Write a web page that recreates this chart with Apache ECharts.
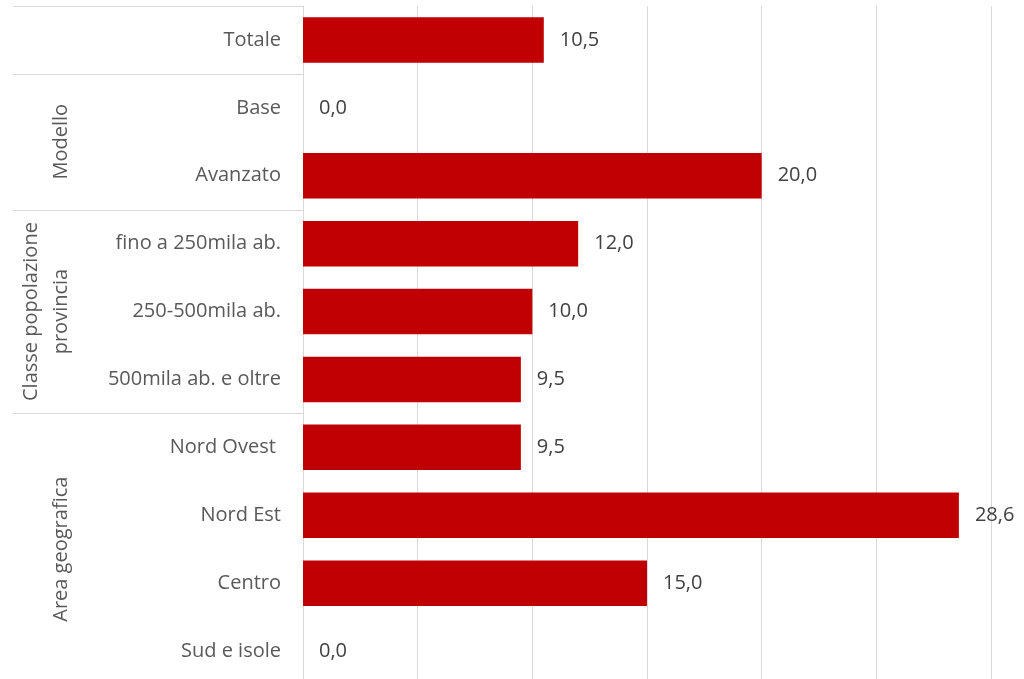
<!DOCTYPE html>
<html>
<head>
    <meta charset="utf-8">
    <title>ECharts</title>
    <script src="https://cdn.jsdelivr.net/npm/echarts@6/dist/echarts.min.js"></script>
</head>
<body style="margin:0">
<div id="main" style="width: 1024px;height:679px;"></div>

<script type="text/javascript">
    var categories = ['Totale', 'Base', 'Avanzato', 'fino a 250mila ab.', '250-500mila ab.',
        '500mila ab. e oltre', 'Nord Ovest ', 'Nord Est', 'Centro', 'Sud e isole'];
    var values = [10.5, 0, 20, 12, 10, 9.5, 9.5, 28.6, 15, 0];
    // outer group labels on the left, with how many categories each one covers
    var groupNames = ['', 'Modello', 'Classe popolazione\nprovincia', 'Area geografica'];
    var groupSizes = [1, 2, 3, 4];

    var fontFamily = '"Open Sans", sans-serif';
    var lineColor = '#d9d9d9';

    var myChart = echarts.init(document.getElementById('main'));

    var option = {
        animation: false,
        grid: {
            left: 303,
            right: 33,
            top: 6,
            bottom: -6,
            outerBoundsMode: 'none'
        },
        xAxis: {
            type: 'value',
            min: 0,
            max: 30,
            interval: 5,
            axisLabel: { show: false },
            axisLine: { show: false },
            axisTick: { show: false },
            splitLine: { lineStyle: { color: lineColor, width: 1 } }
        },
        yAxis: {
            type: 'category',
            inverse: true,
            data: categories,
            axisLine: { show: true, lineStyle: { color: lineColor, width: 1 } },
            axisTick: { show: false },
            axisLabel: {
                margin: 22,
                fontSize: 20,
                color: '#595959',
                fontFamily: fontFamily
            }
        },
        series: [{
            type: 'bar',
            data: values,
            barCategoryGap: '33%',
            itemStyle: { color: '#c00000' },
            label: {
                show: true,
                position: 'right',
                distance: 16,
                fontSize: 20,
                color: '#404040',
                fontFamily: fontFamily,
                formatter: function (p) {
                    return p.value.toFixed(1).replace('.', ',');
                }
            }
        }]
    };

    myChart.setOption(option);

    // separators and rotated group names, placed from the category scale
    var centers = categories.map(function (c, i) {
        return myChart.convertToPixel({ yAxisIndex: 0 }, i);
    });
    var band = centers[1] - centers[0];
    var axisX = myChart.convertToPixel({ xAxisIndex: 0 }, 0);
    var graphics = [];
    var start = 0;
    for (var g = 0; g < groupNames.length; g++) {
        var y0 = centers[start] - band / 2;
        var y1 = centers[start + groupSizes[g] - 1] + band / 2;
        graphics.push({
            type: 'line',
            shape: { x1: 13, y1: Math.round(y0) + 0.5, x2: axisX, y2: Math.round(y0) + 0.5 },
            style: { stroke: lineColor, lineWidth: 1 }
        });
        if (groupNames[g]) {
            var nLines = groupNames[g].split('\n').length;
            graphics.push({
                type: 'text',
                x: 61 - (nLines - 1) * 15,
                y: (y0 + y1) / 2,
                rotation: Math.PI / 2,
                style: {
                    text: groupNames[g],
                    fontSize: 20,
                    lineHeight: 30,
                    fill: '#595959',
                    fontFamily: fontFamily,
                    align: 'center',
                    verticalAlign: 'middle'
                }
            });
        }
        start += groupSizes[g];
    }
    myChart.setOption({ graphic: graphics });
</script>
</body>
</html>
